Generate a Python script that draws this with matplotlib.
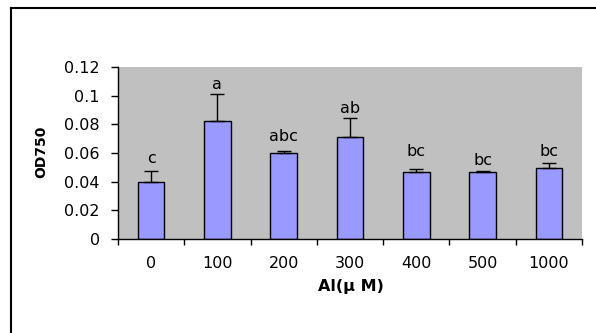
import numpy as np
import matplotlib.pyplot as plt
from matplotlib.lines import Line2D

# -------- Data --------
categories = ['0', '100', '200', '300', '400', '500', '1000']
od750 = [0.0400, 0.0823, 0.0598, 0.0714, 0.0465, 0.0465, 0.0493]
err_up = [0.0074, 0.0187, 0.0018, 0.0132, 0.0021, 0.0012, 0.0035]
letters = ['c', 'a', 'abc', 'ab', 'bc', 'bc', 'bc']
letter_y = [0.0530, 0.1047, 0.0686, 0.0881, 0.0579, 0.0516, 0.0579]

yticks = [0, 0.02, 0.04, 0.06, 0.08, 0.1, 0.12]
ytick_labels = ['0', '0.02', '0.04', '0.06', '0.08', '0.1', '0.12']

plt.rcParams['font.family'] = ['DejaVu Sans']

fig = plt.figure(figsize=(5.96, 3.33), dpi=100)
ax = fig.add_axes([0.198, 0.2823, 0.7785, 0.5165])
ax.set_facecolor('#C0C0C0')

x = np.arange(len(categories))
ax.bar(x, od750, width=0.4, color='#9999FF', edgecolor='black', linewidth=1, zorder=2)
ax.errorbar(x, od750, yerr=[np.zeros(len(err_up)), err_up], fmt='none',
            ecolor='black', elinewidth=1, capsize=5, capthick=1, zorder=3)

for xi, lab, ly in zip(x, letters, letter_y):
    ax.text(xi, ly, lab, ha='center', va='baseline', fontsize=11.5)

ax.set_xlim(-0.5, len(categories) - 0.5)
ax.set_ylim(0, 0.12)
ax.set_yticks(yticks)
ax.set_yticklabels(ytick_labels, fontsize=11.5)
ax.set_xticks(x)
ax.set_xticklabels(categories, fontsize=11.5)
ax.set_xticks(np.arange(-0.5, len(categories)), minor=True)
ax.tick_params(axis='x', which='major', length=0, pad=12)
ax.tick_params(axis='x', which='minor', length=4, width=1, direction='out')
ax.tick_params(axis='y', length=5, width=1, direction='out', pad=8)

for s in ['top', 'right']:
    ax.spines[s].set_visible(False)
for s in ['left', 'bottom']:
    ax.spines[s].set_linewidth(1)
    ax.spines[s].set_color('black')

fig.text(41 / 596, 1 - 152 / 333, 'OD750', rotation=90, ha='center', va='center',
         fontsize=10, fontweight='bold')
fig.text(351 / 596, 1 - 286 / 333, 'Al(\u03bc M)', ha='center', va='center',
         fontsize=11.5, fontweight='bold')

# outer frame (left and top edges)
fig.add_artist(Line2D([11 / 596, 11 / 596], [0, 1 - 7.5 / 333], transform=fig.transFigure,
                      color='black', linewidth=1.5))
fig.add_artist(Line2D([11 / 596, 1], [1 - 7.5 / 333, 1 - 7.5 / 333], transform=fig.transFigure,
                      color='black', linewidth=1.5))

fig.savefig('out.png', dpi=100)
